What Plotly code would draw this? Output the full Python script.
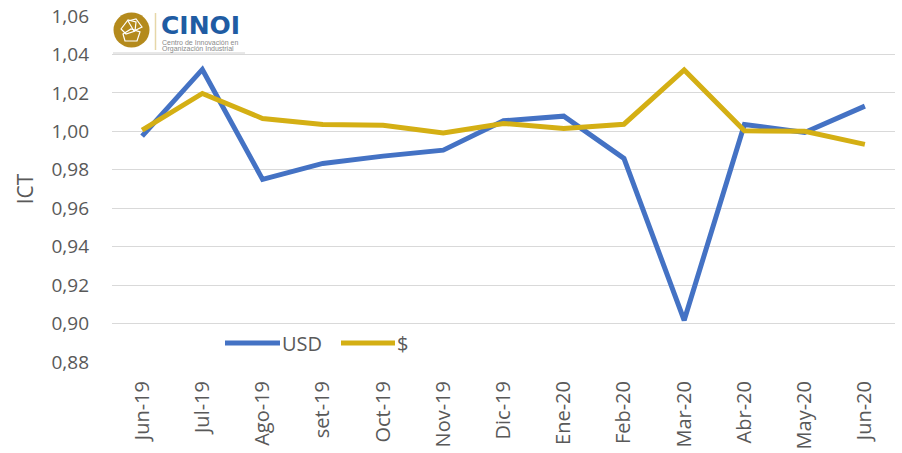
import plotly.graph_objects as go

months = ["Jun-19", "Jul-19", "Ago-19", "set-19", "Oct-19", "Nov-19", "Dic-19",
          "Ene-20", "Feb-20", "Mar-20", "Abr-20", "May-20", "Jun-20"]
usd = [0.9975, 1.0322, 0.9750, 0.9833, 0.9871, 0.9902, 1.0055,
       1.0079, 0.9859, 0.9017, 1.0036, 0.9994, 1.0131]
pesos = [1.0006, 1.0197, 1.0067, 1.0036, 1.0032, 0.9992, 1.0041,
         1.0015, 1.0037, 1.0319, 1.0003, 1.0000, 0.9932]
y_ticks = [0.88, 0.90, 0.92, 0.94, 0.96, 0.98, 1.00, 1.02, 1.04, 1.06]
y_tick_text = ["0,88", "0,90", "0,92", "0,94", "0,96", "0,98", "1,00", "1,02", "1,04", "1,06"]

BLUE = "#4472C4"
GOLD = "#D4AF14"
GRAY = "#595959"
FONT = "Open Sans"

W, H = 902, 453
L, R, T, B = 112, 895, 16, 362


def px(x, y):
    return (x - L) / (R - L), (B - y) / (B - T)


fig = go.Figure()
fig.add_trace(go.Scatter(x=months, y=usd, mode="lines", name="USD",
                         line=dict(color=BLUE, width=5), showlegend=False))
fig.add_trace(go.Scatter(x=months, y=pesos, mode="lines", name="$",
                         line=dict(color=GOLD, width=5), showlegend=False))

shapes = []
annotations = []

# manual legend
for (x0, x1, color, label, tx) in [(225, 280, BLUE, "USD", 280), (341, 395, GOLD, "$", 395)]:
    a0, b0 = px(x0, 343)
    a1, _ = px(x1, 343)
    shapes.append(dict(type="line", xref="paper", yref="paper", x0=a0, x1=a1, y0=b0, y1=b0,
                       line=dict(color=color, width=5)))
    ax, ay = px(tx, 343)
    annotations.append(dict(xref="paper", yref="paper", x=ax, y=ay, text=label, showarrow=False,
                            xanchor="left", yanchor="middle",
                            font=dict(family=FONT, size=20, color=GRAY)))

# logo box
bx0, by0 = px(112, 53)
bx1, by1 = px(246, 10)
shapes.append(dict(type="rect", xref="paper", yref="paper", x0=bx0, y0=by0, x1=bx1, y1=by1,
                   fillcolor="white", line=dict(width=0), layer="above"))
lx0, ly = px(113, 53)
lx1, _ = px(245, 53)
shapes.append(dict(type="line", xref="paper", yref="paper", x0=lx0, x1=lx1, y0=ly, y1=ly,
                   line=dict(color="#D0D0D0", width=1)))
# gold circle
cx0, cy0 = px(113.5, 47.5)
cx1, cy1 = px(149.5, 12.5)
shapes.append(dict(type="circle", xref="paper", yref="paper", x0=cx0, y0=cy0, x1=cx1, y1=cy1,
                   fillcolor="#B48A1C", line=dict(width=0)))


def path(points):
    s = ""
    for i, (x, y) in enumerate(points):
        a, b = px(x, y)
        s += ("M" if i == 0 else "L") + f"{a},{b} "
    return s + "Z"


# simplified icon
for pts in [
    [(121, 29), (128, 20), (136, 22), (135, 31), (126, 34)],
    [(123, 34), (131, 29), (140, 32), (137, 41), (125, 41)],
    [(128, 21), (136, 19), (142, 27), (134, 31)],
]:
    shapes.append(dict(type="path", xref="paper", yref="paper", path=path(pts),
                       line=dict(color="white", width=1.2), fillcolor="rgba(0,0,0,0)"))
# separator
sx, sy0 = px(155.5, 50)
_, sy1 = px(155.5, 13)
shapes.append(dict(type="line", xref="paper", yref="paper", x0=sx, x1=sx, y0=sy0, y1=sy1,
                   line=dict(color="#E6D7A8", width=1.5)))

tx, ty = px(160, 25.5)
annotations.append(dict(xref="paper", yref="paper", x=tx, y=ty, text="<b>CINOI</b>", showarrow=False,
                        xanchor="left", yanchor="middle", borderpad=0,
                        font=dict(family="DejaVu Sans", size=25, color="#1F5CA3")))
for txt, yy in [("Centro de Innovación en", 42.5), ("Organización Industrial", 49)]:
    tx, ty = px(161, yy)
    annotations.append(dict(xref="paper", yref="paper", x=tx, y=ty,
                            text=txt, showarrow=False, borderpad=0,
                            xanchor="left", yanchor="middle", align="left",
                            font=dict(family="Liberation Sans", size=7, color="#8A8A8A")))

fig.update_layout(
    width=W, height=H,
    margin=dict(l=L, r=W - R, t=T, b=H - B, pad=0, autoexpand=False),
    paper_bgcolor="white", plot_bgcolor="white",
    font=dict(family=FONT, color=GRAY),
    shapes=shapes, annotations=annotations,
    showlegend=False,
    xaxis=dict(type="category", tickangle=-90, showgrid=False, zeroline=False, automargin=False,
               showline=False, ticks="", tickfont=dict(family=FONT, size=20, color=GRAY),
               ticklabelstandoff=14, range=[-0.5, 12.5]),
    yaxis=dict(range=[0.88, 1.06], tickvals=y_ticks, ticktext=y_tick_text, automargin=False,
               showgrid=True, gridcolor="#D9D9D9", gridwidth=1, zeroline=False,
               showline=False, ticks="", tickfont=dict(family=FONT, size=19, color=GRAY),
               ticklabelstandoff=22,
               title=dict(text="ICT", font=dict(family=FONT, size=21, color=GRAY), standoff=12)),
)

fig.write_html("out.html", config={"displayModeBar": False},
               post_script="document.body.style.margin='0';document.body.style.overflow='hidden';")
